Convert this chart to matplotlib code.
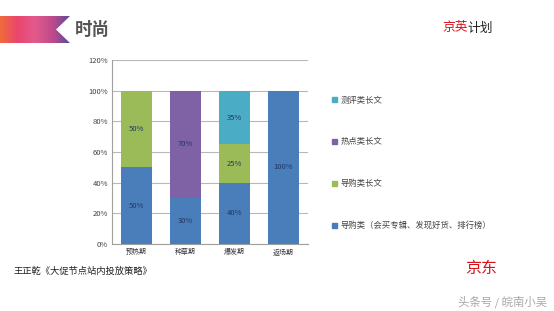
import numpy as np
import matplotlib.pyplot as plt
from matplotlib.patches import Polygon, Patch
from matplotlib.colors import LinearSegmentedColormap

plt.rcParams["font.family"] = ["Noto Sans CJK SC", "DejaVu Sans"]

# 数据
stages = ["预热期", "种草期", "爆发期", "返场期"]
series = ["导购类（会买专辑、发现好货、排行榜）", "导购类长文", "热点类长文", "测评类长文"]
guide = [50, 30, 40, 100]
guide_long = [50, 0, 25, 0]
hot_long = [0, 70, 0, 0]
review_long = [0, 0, 35, 0]
yticks = [0, 20, 40, 60, 80, 100, 120]

COLOR = ["#4a7ebb", "#9bbb59", "#7f62a6", "#4bacc6"]
LABEL_C = "#1f3864"

fig = plt.figure(figsize=(5.54, 3.11), dpi=100)
fig.patch.set_facecolor("white")

# 页面装饰：彩带、标题、署名
bg = fig.add_axes([0, 0, 1, 1], zorder=-1)
bg.set_xlim(0, 554)
bg.set_ylim(311, 0)
bg.axis("off")
grad = np.linspace(0, 1, 256).reshape(1, -1)
cmap = LinearSegmentedColormap.from_list(
    "rib", ["#f26b3a", "#e9466e", "#e35a8c", "#c04a8a", "#5b4a9c"])
im = bg.imshow(grad, cmap=cmap, extent=[0, 70, 43, 16], aspect="auto")
rib = Polygon([(0, 16), (70, 16), (56, 29.5), (70, 43), (0, 43)], closed=True,
              facecolor="none", edgecolor="none")
bg.add_patch(rib)
im.set_clip_path(rib)
bg.text(75, 30, "时尚", fontsize=12.6, fontweight="bold", color="#555555",
        va="center", ha="left")
bg.text(442, 28, "京英", fontsize=9.2, color="#d7141a", va="center", ha="left")
bg.text(467.5, 28, "计划", fontsize=9.2, color="#222222", va="center", ha="left")
bg.text(13, 271, "王正乾《大促节点站内投放策略》", fontsize=6.7, color="#222222",
        va="center", ha="left")
bg.text(465, 268, "京东", fontsize=11.5, color="#d7141a",
        va="center", ha="left")
bg.text(547, 302, "头条号 / 皖南小吴", fontsize=8.2, color="#a8a8a8",
        va="center", ha="right")

# 堆积柱状图
ax = fig.add_axes([112 / 554, (311 - 244) / 311, 196 / 554, 184 / 311])
x = np.arange(len(stages))
w = 0.63
bottom = np.zeros(len(stages))
for vals, c in zip([guide, guide_long, hot_long, review_long], COLOR):
    vals = np.array(vals, dtype=float)
    ax.bar(x, vals, w, bottom=bottom, color=c, zorder=3)
    for xi, b, v in zip(x, bottom, vals):
        if v > 0:
            ax.text(xi, b + v / 2, f"{int(v)}%", ha="center", va="center",
                    fontsize=5.5, color=LABEL_C, zorder=4)
    bottom += vals

ax.set_xlim(-0.5, 3.5)
ax.set_ylim(0, 120)
ax.set_yticks(yticks)
ax.set_yticklabels([f"{t}%" for t in yticks], fontsize=5.5, color="#444444")
ax.set_xticks(x)
ax.set_xticklabels(stages, fontsize=5, color="#333333")
ax.tick_params(axis="both", length=0, pad=3)
ax.yaxis.grid(True, color="#b8b8b8", lw=0.8, zorder=0)
for s in ["top", "right"]:
    ax.spines[s].set_visible(False)
for s in ["left", "bottom"]:
    ax.spines[s].set_color("#a0a0a0")
    ax.spines[s].set_linewidth(0.8)

# 图例（倒序，与堆叠顺序一致）
hs = [Patch(color=c) for c in COLOR][::-1]
leg = fig.legend(hs, series[::-1], loc="upper left",
                 bbox_to_anchor=(324 / 554, 1 - 88 / 311), frameon=False,
                 fontsize=6, labelspacing=3.95, handlelength=0.6,
                 handleheight=0.6, handletextpad=0.5)
for t in leg.get_texts():
    t.set_color("#444444")

fig.savefig("out.png", dpi=100)
